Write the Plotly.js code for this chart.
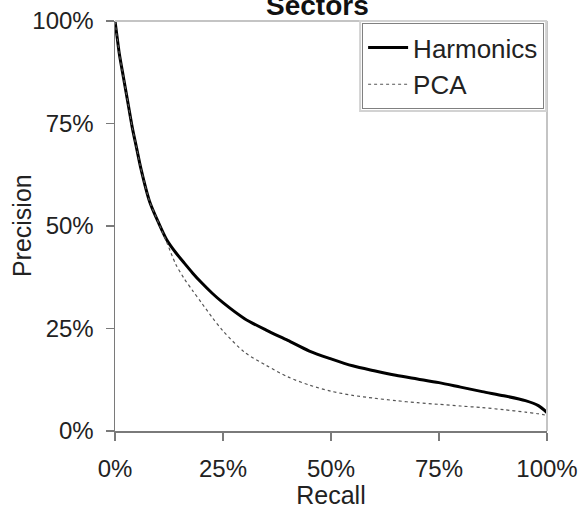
<!DOCTYPE html>
<html>
<head>
<meta charset="utf-8">
<script src="https://cdn.plot.ly/plotly-3.0.1.min.js"></script>
<style>
  html, body { margin: 0; padding: 0; background: #ffffff; }
  #chart { width: 584px; height: 509px; }
</style>
</head>
<body>
<div id="chart"></div>
<script>
// Precision/recall curves for the "Sectors" retrieval experiment
const recall = [0, 0.005, 0.01, 0.02, 0.03, 0.04, 0.05, 0.06, 0.08, 0.10, 0.12, 0.14, 0.16, 0.18,
                0.20, 0.225, 0.25, 0.30, 0.35, 0.40, 0.45, 0.50, 0.55, 0.60, 0.65, 0.70, 0.75,
                0.80, 0.85, 0.90, 0.95, 0.98, 1.0];
const harmonicsPrecision = [1.0, 0.96, 0.92, 0.86, 0.80, 0.74, 0.69, 0.64, 0.56, 0.51, 0.466, 0.436, 0.41, 0.385,
                            0.362, 0.336, 0.313, 0.274, 0.246, 0.221, 0.195, 0.176, 0.159, 0.147, 0.136, 0.127, 0.118,
                            0.107, 0.096, 0.086, 0.074, 0.062, 0.045];
const pcaPrecision = [1.0, 0.96, 0.92, 0.86, 0.80, 0.74, 0.69, 0.64, 0.56, 0.51, 0.46, 0.408, 0.372, 0.342,
                      0.313, 0.277, 0.244, 0.192, 0.16, 0.132, 0.112, 0.097, 0.087, 0.08, 0.074, 0.069, 0.065,
                      0.061, 0.057, 0.052, 0.046, 0.042, 0.038];
const seriesNames = ['Harmonics', 'PCA'];
const tickValues = [0, 0.25, 0.5, 0.75, 1];
const tickLabels = ['0%', '25%', '50%', '75%', '100%'];

const FONT = 'Liberation Sans, Arial, sans-serif';
const TEXT = '#222222';
const AXIS_GREY = '#7a7a7a';
const FRAME_GREY = '#c4c4c4';
const MARGIN = { l: 115, r: 37, t: 21, b: 78, pad: 0 };
const W = 584, H = 509;

const traces = [
  {
    x: recall, y: harmonicsPrecision, name: seriesNames[0],
    type: 'scatter', mode: 'lines',
    line: { color: '#000000', width: 3, shape: 'spline', smoothing: 0.8 }
  },
  {
    x: recall, y: pcaPrecision, name: seriesNames[1],
    type: 'scatter', mode: 'lines',
    line: { color: '#555555', width: 1.2, dash: 'dot', shape: 'spline', smoothing: 0.8 }
  }
];

const axisCommon = {
  range: [0, 1],
  tickmode: 'array',
  tickvals: tickValues,
  ticktext: tickLabels,
  ticks: 'outside',
  ticklen: 8,
  tickwidth: 1.5,
  tickcolor: AXIS_GREY,
  showline: true,
  linecolor: AXIS_GREY,
  linewidth: 1.5,
  showgrid: false,
  zeroline: false,
  fixedrange: true,
  tickfont: { family: FONT, size: 24, color: TEXT }
};

const frameShapes = [
  { type: 'line', xref: 'paper', yref: 'paper', x0: 0, x1: 1, y0: 1, y1: 1,
    line: { color: FRAME_GREY, width: 2 } },
  { type: 'line', xref: 'paper', yref: 'paper', x0: 1, x1: 1, y0: 0, y1: 1,
    line: { color: FRAME_GREY, width: 2 } }
];

const layout = {
  width: W,
  height: H,
  margin: MARGIN,
  paper_bgcolor: '#ffffff',
  plot_bgcolor: '#ffffff',
  font: { family: FONT, color: TEXT },
  showlegend: true,
  legend: {
    x: 0.572, xanchor: 'left',
    y: 0.995, yanchor: 'top',
    bgcolor: '#ffffff',
    bordercolor: '#808080',
    borderwidth: 1,
    font: { family: FONT, size: 26, color: TEXT },
    tracegroupgap: 0,
    itemwidth: 40
  },
  xaxis: Object.assign({}, axisCommon, {
    title: { text: 'Recall', font: { family: FONT, size: 25, color: TEXT }, standoff: 2 },
    ticklabelstandoff: 8
  }),
  yaxis: Object.assign({}, axisCommon, {
    ticklabelstandoff: 7
  }),
  shapes: frameShapes.slice(),
  annotations: [
    { text: '<b>Sectors</b>', xref: 'paper', yref: 'paper', x: 0.4676, y: 0.996, xanchor: 'center', yanchor: 'bottom',
      showarrow: false, font: { family: FONT, size: 28, color: '#111111' } },
    // y-axis title, placed by hand so it sits close to the tick labels
    { text: 'Precision', xref: 'paper', yref: 'paper', x: -0.215, y: 0.5, xanchor: 'center', yanchor: 'middle',
      textangle: -90, showarrow: false, font: { family: FONT, size: 25, color: TEXT } }
  ]
};

const gd = document.getElementById('chart');
Plotly.newPlot(gd, traces, layout, { staticPlot: true, displayModeBar: false }).then(() => {
  // soft outer frame around the legend box, like a drop shadow
  const bg = gd.querySelector('.legend .bg');
  if (!bg) return;
  const r = bg.getBoundingClientRect();
  const host = gd.getBoundingClientRect();
  const pw = W - MARGIN.l - MARGIN.r, ph = H - MARGIN.t - MARGIN.b;
  const toX = px => (px - host.left - MARGIN.l) / pw;
  const toY = py => 1 - (py - host.top - MARGIN.t) / ph;
  const pad = 2.5;
  const halo = {
    type: 'rect', xref: 'paper', yref: 'paper', layer: 'above',
    x0: toX(r.left - pad), x1: toX(r.right + pad),
    y0: toY(r.bottom + pad), y1: toY(r.top - pad),
    line: { color: '#d2d2d2', width: 2 }, fillcolor: 'rgba(0,0,0,0)'
  };
  return Plotly.relayout(gd, { shapes: frameShapes.concat([halo]) });
});
</script>
</body>
</html>
